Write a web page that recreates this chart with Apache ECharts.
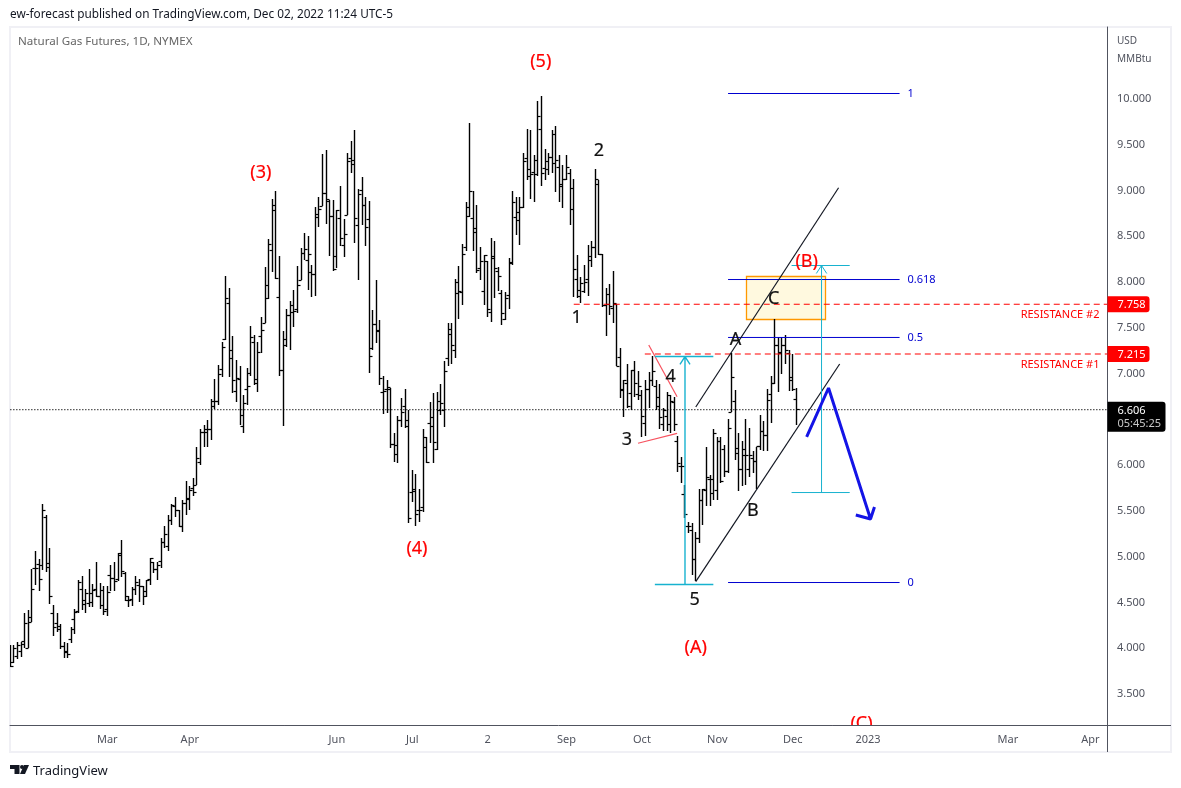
<!DOCTYPE html>
<html>
<head>
<meta charset="utf-8">
<title>Natural Gas Futures</title>
<script src="https://cdn.jsdelivr.net/npm/echarts@6/dist/echarts.min.js"></script>
<style>
html, body { margin: 0; padding: 0; background: #fff; }
#main { width: 1181px; height: 788px; }
</style>
</head>
<body>
<div id="main"></div>
<script>
// daily bars
var opens = [
  4.00,3.84,3.91,3.96,4.04,4.00,4.34,4.87,4.92,4.90, 5.43,4.93,4.38,4.27,4.24,4.02,3.95,4.10,4.31,4.40,
  4.64,4.52,4.49,4.60,4.64,4.57,4.63,4.42,4.80,4.76, 4.75,5.01,4.82,4.56,4.53,4.64,4.69,4.67,4.62,4.75,
  4.94,4.86,4.95,5.15,5.11,5.40,5.55,5.50,5.33,5.58, 5.63,5.74,5.78,6.03,6.36,6.39,6.39,6.69,6.69,7.04,
  7.37,7.77,7.25,6.81,6.94,6.42,6.83,7.00,7.34,6.94, 7.41,7.55,7.82,8.35,8.84,7.83,7.03,7.31,7.64,7.67,
  7.70,8.02,8.31,8.24,8.10,8.08,8.71,8.83,8.97,8.88, 8.72,8.28,8.69,8.40,8.73,9.35,9.33,8.62,9.00,8.84,
  8.68,7.27,7.54,7.46,6.79,6.83,6.83,6.23,6.12,6.49, 6.64,6.42,5.70,5.71,5.51,5.54,6.19,6.45,6.52,6.17,
  6.60,6.60,7.17,7.43,7.25,7.87,7.89,8.38,8.72,8.70, 8.58,8.15,7.90,8.23,7.67,8.28,8.12,7.87,7.59,7.85,
  8.20,8.71,8.67,8.81,9.35,9.15,9.20,9.17,9.67,9.24, 9.23,9.36,9.61,9.25,9.07,9.12,9.19,9.02,8.03,7.91,
  7.90,8.03,8.28,8.38,9.07,8.30,7.74,7.75,7.71,7.76, 7.18,6.82,6.89,6.78,7.03,6.77,6.76,6.46,6.83,6.93,
  6.86,6.64,6.44,6.53,6.44,6.68,6.26,5.99,5.68,5.33, 5.29,4.97,5.20,5.61,5.72,5.84,5.69,5.72,6.26,6.17,
  5.93,6.58,6.69,6.18,5.95,6.11,5.95,6.07,6.04,6.20, 6.37,6.32,6.77,6.89,7.31,7.23,7.31,7.22,6.93,6.72
];
var highs = [
  4.04,4.04,4.07,4.07,4.39,4.42,4.87,5.06,4.98,5.58, 5.46,5.09,4.47,4.38,4.26,4.07,4.06,4.23,4.43,4.75,
  4.79,4.65,4.87,4.70,4.94,4.71,4.68,4.68,4.91,4.94, 5.04,5.18,4.83,4.57,4.67,4.79,4.76,4.68,4.75,4.99,
  4.94,4.94,5.20,5.34,5.46,5.58,5.65,5.51,5.62,5.83, 5.77,5.86,6.20,6.40,6.44,6.49,6.72,6.94,7.09,7.35,
  8.07,7.93,7.41,7.15,7.08,6.77,7.06,7.52,7.42,7.34, 7.62,8.16,8.47,8.91,8.99,8.28,7.47,7.71,7.79,7.91,
  8.18,8.37,8.54,8.50,8.19,8.82,8.93,9.40,9.44,8.90, 8.90,8.79,9.05,8.69,9.41,9.54,9.66,9.02,9.15,8.93,
  8.89,7.70,8.02,7.59,6.97,6.93,6.84,6.35,6.54,6.73, 6.83,6.60,5.95,5.90,5.74,6.39,6.31,6.69,6.79,6.80,
  6.89,7.14,7.55,7.55,8.03,8.18,8.42,8.88,9.74,8.99, 8.84,8.38,8.30,8.23,8.48,8.45,8.17,7.91,7.89,8.26,
  9.00,8.93,8.93,9.41,9.67,9.66,9.39,9.98,10.03,9.45, 9.41,9.66,9.70,9.39,9.28,9.39,9.23,9.13,8.30,8.06,
  8.19,8.41,8.45,9.23,9.12,8.31,7.93,7.98,8.12,7.76, 7.28,6.93,7.11,7.04,7.14,7.03,6.82,6.93,7.02,7.19,
  6.93,6.89,6.62,6.80,6.77,6.74,6.32,6.09,5.78,5.38, 5.37,5.27,5.74,5.74,6.20,5.89,6.40,6.31,6.31,6.22,
  6.50,7.22,6.82,6.35,6.26,6.50,6.41,6.15,6.20,6.55, 6.48,6.83,6.97,7.60,7.40,7.40,7.42,7.26,7.21,6.84
];
var lows = [
  3.80,3.84,3.88,3.90,4.00,4.00,4.29,4.69,4.63,4.86, 4.83,4.48,4.13,4.18,3.99,3.89,3.89,4.06,4.16,4.38,
  4.42,4.38,4.45,4.45,4.56,4.43,4.36,4.35,4.62,4.63, 4.73,4.78,4.52,4.45,4.46,4.58,4.51,4.47,4.56,4.69,
  4.82,4.75,4.88,5.09,5.06,5.35,5.43,5.32,5.27,5.46, 5.51,5.66,5.78,6.00,6.20,6.20,6.28,6.61,6.66,6.96,
  7.37,6.96,6.79,6.69,6.44,6.35,6.66,6.97,6.88,6.80, 7.22,7.55,7.81,8.11,8.03,6.97,6.43,7.29,7.26,7.51,
  7.66,8.02,8.24,7.91,7.84,7.85,8.60,8.83,8.63,8.28, 8.12,8.15,8.39,8.27,8.73,9.19,8.43,8.02,8.62,8.39,
  7.01,7.26,7.33,6.88,6.56,6.57,6.19,6.03,6.02,6.42, 6.41,5.37,5.60,5.33,5.38,5.49,6.02,6.24,6.02,6.17,
  6.55,6.42,7.08,7.11,7.17,7.60,7.75,8.34,8.71,8.34, 8.10,8.02,7.75,7.62,7.56,7.83,7.90,7.53,7.59,7.71,
  8.19,8.51,8.40,8.81,9.11,8.91,8.87,9.16,9.05,9.12, 9.17,9.19,8.98,8.87,8.81,9.12,8.62,7.84,7.83,7.77,
  7.88,7.85,8.16,8.26,8.30,7.73,7.41,7.64,7.55,7.08, 6.73,6.53,6.62,6.60,6.75,6.71,6.31,6.32,6.62,6.86,
  6.60,6.40,6.37,6.37,6.35,6.37,5.93,5.80,5.42,5.26, 4.80,4.74,5.15,5.35,5.55,5.55,5.62,5.62,5.80,5.87,
  5.91,6.58,6.06,5.72,5.77,5.78,5.87,5.91,5.74,6.17, 6.15,6.15,6.46,6.89,6.80,7.00,7.11,6.81,6.81,6.44
];
var closes = [
  3.80,4.00,4.03,4.07,4.27,4.28,4.64,4.87,4.75,5.50, 4.88,4.56,4.23,4.20,4.02,3.96,3.93,4.20,4.39,4.72,
  4.48,4.60,4.50,4.63,4.57,4.47,4.40,4.61,4.76,4.73, 5.03,4.84,4.52,4.52,4.64,4.72,4.67,4.57,4.74,4.98,
  4.86,4.90,5.15,5.24,5.40,5.56,5.50,5.33,5.58,5.64, 5.72,5.70,6.07,6.36,6.36,6.39,6.64,6.69,6.99,7.29,
  7.82,7.17,6.93,6.95,6.54,6.67,6.86,7.39,6.89,7.23, 7.47,7.96,8.41,8.78,8.04,7.03,7.37,7.64,7.74,7.68,
  7.96,8.31,8.36,8.30,8.08,8.74,8.79,8.97,8.90,8.72, 8.14,8.78,8.48,8.52,9.32,9.28,8.70,8.96,8.84,8.60,
  7.19,7.54,7.47,6.95,6.80,6.85,6.23,6.22,6.49,6.57, 6.49,5.42,5.73,5.46,5.51,6.30,6.03,6.42,6.25,6.69,
  6.67,7.02,7.48,7.31,8.00,7.90,8.30,8.81,8.99,8.54, 8.13,8.23,8.29,7.70,8.26,8.15,8.06,7.66,7.82,8.21,
  8.87,8.76,8.81,9.32,9.23,9.18,9.33,9.81,9.19,9.32, 9.36,9.29,9.33,9.04,9.12,9.25,8.79,8.14,7.84,7.98,
  7.99,8.24,8.38,9.12,8.30,7.74,7.86,7.73,7.77,7.08, 6.83,6.92,6.64,7.03,6.89,6.86,6.53,6.83,6.92,7.02,
  6.74,6.52,6.60,6.76,6.69,6.44,6.02,5.99,5.46,5.33, 4.97,5.20,5.61,5.73,5.87,5.84,6.35,6.26,5.82,5.93,
  6.40,6.96,6.13,5.95,6.17,6.11,6.11,6.04,6.20,6.37, 6.32,6.71,6.89,7.31,7.22,7.31,7.25,6.96,6.83,6.606
];

// axis ticks (x is the bar number)
var timeTicks = [27, 50, 91, 112, 133, 155, 176, 197, 218, 239, 278, 301];
var timeLabels = ['Mar', 'Apr', 'Jun', 'Jul', '2', 'Sep', 'Oct', 'Nov', 'Dec', '2023', 'Mar', 'Apr'];
var priceTicks = [3.5, 4, 4.5, 5, 5.5, 6, 6.5, 7, 7.5, 8, 8.5, 9, 9.5, 10];

// drawings on the chart, [bar, price]
var lastPrice = 6.606;
var lastBar = 305.6;
var resistanceLevels = [7.758, 7.215];
var resistanceStarts = [157, 176.8];
var fibLevels = ['1', '0.618', '0.5', '0'];
var fibPrices = [10.06, 8.028, 7.395, 4.718];
var fibStart = 200, fibEnd = 247.8, fibText = 250;
var channelUpper = [[191, 6.635], [230.8, 9.03]];
var channelLower = [[191, 4.727], [231.1, 7.105]];
var pinkUpper = [[177.9, 7.313], [185.8, 6.748]];
var pinkLower = [[174.9, 6.239], [185.8, 6.348]];
var zoneBox = [[205.15, 8.061, 227.15, 7.586]];
var measureLeft = [[179.6, 4.696], [195.9, 4.696], [188, 4.696], [188, 7.187], [179.6, 7.187], [195.9, 7.187], [188, 7.187], [186.6, 7.10], [188, 7.187], [189.4, 7.10]];
var measureRight = [[217.7, 5.701], [233.9, 5.701], [226.05, 5.701], [226.05, 8.181], [217.7, 8.181], [233.9, 8.181], [226.05, 8.181], [224.6, 8.094], [226.05, 8.181], [227.5, 8.094]];
var forecastPath = [[221.9, 6.308], [228, 6.843], [239.7, 5.412], [235.6, 5.456], [239.7, 5.412], [240.8, 5.543]];

// wave counts: bar, price, text
var redWaves = [[147.8, 10.415, '(5)'], [69.8, 9.203, '(3)'], [113.3, 5.095, '(4)'], [191, 4.01, '(A)'], [221.9, 8.23, '(B)'], [237.2, 3.19, '(C)']];
var blackWaves = [[164, 9.443, '2'], [157.8, 7.619, '1'], [171.8, 6.286, '3'], [184, 6.974, '4'], [190.7, 4.538, '5'], [202.1, 7.378, 'A'], [206.9, 5.51, 'B'], [212.7, 7.826, 'C']];
var resistanceNotes = [[303.5, 7.651, 'RESISTANCE #2'], [303.5, 7.105, 'RESISTANCE #1']];

var uiFont = '"Noto Sans", sans-serif';

var barData = opens.map(function (o, i) {
    return [i, o, highs[i], lows[i], closes[i]];
});

function crisp(v) {
    return Math.round(v - 0.5) + 0.5;
}

// ohlc bar: stem with a tick left (open) and right (close)
function renderBar(params, api) {
    var x = api.value(0);
    var pO = api.coord([x, api.value(1)]);
    var pH = api.coord([x, api.value(2)]);
    var pL = api.coord([x, api.value(3)]);
    var pC = api.coord([x, api.value(4)]);
    var cx = crisp(pO[0]);
    return {
        type: 'group',
        children: [
            { type: 'line', shape: { x1: cx, y1: Math.round(pH[1]), x2: cx, y2: Math.round(pL[1]) }, style: { stroke: '#000', lineWidth: 1.4 } },
            { type: 'line', shape: { x1: cx - 3, y1: crisp(pO[1]), x2: cx, y2: crisp(pO[1]) }, style: { stroke: '#000', lineWidth: 1.2 } },
            { type: 'line', shape: { x1: cx, y1: crisp(pC[1]), x2: cx + 3, y2: crisp(pC[1]) }, style: { stroke: '#000', lineWidth: 1.2 } }
        ]
    };
}

function textRenderer(font, color, align, heavy, dy) {
    return function (params, api) {
        var p = api.coord([api.value(0), api.value(1)]);
        return {
            type: 'text',
            style: {
                text: labelsOf[params.seriesName][params.dataIndex],
                x: p[0], y: p[1] + dy,
                font: font, fill: color,
                stroke: heavy ? color : null, lineWidth: heavy ? 0.2 : 0,
                align: align, verticalAlign: 'middle'
            }
        };
    };
}

var labelsOf = {
    red: redWaves.map(function (d) { return d[2]; }),
    black: blackWaves.map(function (d) { return d[2]; }),
    notes: resistanceNotes.map(function (d) { return d[2]; }),
    fib: fibLevels
};

function lineSeries(data, color, width, type, z) {
    return {
        type: 'line', data: data, showSymbol: false, silent: true, animation: false,
        connectNulls: false, z: z || 4,
        lineStyle: { color: color, width: width, type: type || 'solid' }
    };
}

// pairs of points -> separate segments
function segments(pts) {
    var out = [];
    for (var i = 0; i < pts.length; i += 2) {
        out.push(pts[i], pts[i + 1], [null, null]);
    }
    return out;
}

var series = [];

// last price dotted line
series.push(lineSeries([[0, lastPrice], [lastBar, lastPrice]], '#000', 1.3, [1, 2], 1));

// yellow zone
series.push({
    type: 'custom', data: zoneBox, z: 2, silent: true, animation: false,
    renderItem: function (params, api) {
        var a = api.coord([api.value(0), api.value(1)]);
        var b = api.coord([api.value(2), api.value(3)]);
        return {
            type: 'rect',
            shape: { x: crisp(a[0]), y: crisp(a[1]), width: Math.round(b[0] - a[0]), height: Math.round(b[1] - a[1]) },
            style: { fill: '#fff9df', stroke: '#ff9800', lineWidth: 1.3 }
        };
    }
});

// the bars
series.push({
    type: 'custom', name: 'Natural Gas', data: barData, z: 3, clip: true, silent: true, animation: false,
    encode: { x: 0, y: [1, 2, 3, 4] },
    renderItem: renderBar
});

// fib levels
fibPrices.forEach(function (p) {
    series.push(lineSeries([[fibStart, p], [fibEnd, p]], '#0000d0', 1));
});

// resistance levels
resistanceLevels.forEach(function (p, i) {
    series.push(lineSeries([[resistanceStarts[i], p], [lastBar, p]], '#ff0000', 1.1, [6, 4]));
});

series.push(lineSeries(channelUpper, '#131722', 1.2));
series.push(lineSeries(channelLower, '#131722', 1.2));
series.push(lineSeries(pinkUpper, '#f7525f', 1.2));
series.push(lineSeries(pinkLower, '#f7525f', 1.2));
series.push(lineSeries(segments(measureLeft), '#17b2cf', 1.4));
series.push(lineSeries(segments(measureRight), '#17b2cf', 1));
series.push(lineSeries(forecastPath, '#1414e6', 3));

series.push({
    type: 'custom', name: 'red', data: redWaves.map(function (d) { return [d[0], d[1]]; }),
    z: 6, clip: true, silent: true, animation: false,
    renderItem: textRenderer('18px ' + uiFont, '#ff0000', 'center', true, 1)
});
series.push({
    type: 'custom', name: 'black', data: blackWaves.map(function (d) { return [d[0], d[1]]; }),
    z: 6, clip: true, silent: true, animation: false,
    renderItem: textRenderer('18px ' + uiFont, '#111', 'center', true, 1)
});
series.push({
    type: 'custom', name: 'notes', data: resistanceNotes.map(function (d) { return [d[0], d[1]]; }),
    z: 6, clip: true, silent: true, animation: false,
    renderItem: textRenderer('11px ' + uiFont, '#ff0000', 'right', false, 1)
});
series.push({
    type: 'custom', name: 'fib', data: fibPrices.map(function (p) { return [fibText, p]; }),
    z: 6, clip: true, silent: true, animation: false,
    renderItem: textRenderer('11px ' + uiFont, '#0000d0', 'left', false, 0)
});

// price tags on the scale
series.push({
    type: 'custom', data: resistanceLevels.map(function (p) { return [lastBar, p]; }),
    z: 8, clip: false, silent: true, animation: false,
    renderItem: function (params, api) {
        var p = api.coord([api.value(0), api.value(1)]);
        return {
            type: 'group',
            children: [
                { type: 'rect', shape: { x: p[0] + 0.5, y: p[1] - 8, width: 42, height: 16, r: [0, 3, 3, 0] }, style: { fill: '#ff0000' } },
                { type: 'text', style: { text: api.value(1).toFixed(3), x: p[0] + 10.5, y: p[1] + 1, font: '11px ' + uiFont, fill: '#fff', verticalAlign: 'middle' } }
            ]
        };
    }
});
series.push({
    type: 'custom', data: [[lastBar, lastPrice]],
    z: 8, clip: false, silent: true, animation: false,
    renderItem: function (params, api) {
        var p = api.coord([api.value(0), api.value(1)]);
        return {
            type: 'group',
            children: [
                { type: 'rect', shape: { x: p[0] + 0.5, y: p[1] - 8, width: 58, height: 30, r: [0, 3, 3, 0] }, style: { fill: '#000' } },
                { type: 'text', style: { text: api.value(1).toFixed(3), x: p[0] + 10.5, y: p[1] + 1, font: '11px ' + uiFont, fill: '#fff', verticalAlign: 'middle' } },
                { type: 'text', style: { text: '05:45:25', x: p[0] + 10.5, y: p[1] + 14, font: '11px ' + uiFont, fill: '#c8c8c8', verticalAlign: 'middle' } }
            ]
        };
    }
});

var chart = echarts.init(document.getElementById('main'), null, { renderer: 'canvas' });

chart.setOption({
    animation: false,
    backgroundColor: '#fff',
    grid: { left: 10, right: 74, top: 27, bottom: 63, containLabel: false },
    xAxis: {
        type: 'value', min: -0.1, max: lastBar,
        splitLine: { show: false },
        axisTick: { show: false },
        axisLine: { show: true, onZero: false, lineStyle: { color: '#50535e', width: 1 } },
        axisLabel: {
            customValues: timeTicks, margin: 9, color: '#50535e', fontSize: 11, fontFamily: uiFont,
            hideOverlap: false,
            formatter: function (v) { return timeLabels[timeTicks.indexOf(v)]; }
        }
    },
    yAxis: {
        type: 'value', position: 'right', min: 3.1615, max: 10.7865,
        splitLine: { show: false },
        axisTick: { show: false },
        axisLine: { show: true, onZero: false, lineStyle: { color: '#50535e', width: 1 } },
        axisLabel: {
            customValues: priceTicks, margin: 10, color: '#50535e', fontSize: 11, fontFamily: uiFont,
            hideOverlap: false, padding: [4, 0, 0, 0],
            formatter: function (v) { return v.toFixed(3); }
        }
    },
    series: series,
    graphic: [
        // panel frame
        { type: 'rect', z: 0, shape: { x: 10, y: 27, width: 1161, height: 725 }, style: { fill: 'none', stroke: '#f0f0f5', lineWidth: 2 } },
        // axis lines carried on past the plot
        { type: 'line', z: 7, shape: { x1: 1107, y1: 725.5, x2: 1171, y2: 725.5 }, style: { stroke: '#50535e', lineWidth: 1 } },
        { type: 'line', z: 7, shape: { x1: 1107.5, y1: 725, x2: 1107.5, y2: 752 }, style: { stroke: '#50535e', lineWidth: 1 } },
        { type: 'text', z: 7, style: { text: 'ew-forecast published on TradingView.com, Dec 02, 2022 11:24 UTC-5', x: 10, y: 15, font: '11.8px ' + uiFont, fill: '#131722', verticalAlign: 'middle' } },
        { type: 'text', z: 7, style: { text: 'Natural Gas Futures, 1D, NYMEX', x: 18, y: 42, font: '11.6px ' + uiFont, fill: '#666', verticalAlign: 'middle' } },
        { type: 'text', z: 7, style: { text: 'USD', x: 1117, y: 41, font: '10px ' + uiFont, fill: '#50535e', verticalAlign: 'middle' } },
        { type: 'text', z: 7, style: { text: 'MMBtu', x: 1117, y: 59, font: '10px ' + uiFont, fill: '#50535e', verticalAlign: 'middle' } },
        // footer logo
        { type: 'polygon', z: 7, shape: { points: [[10, 765], [19.5, 765], [19.5, 774], [14.5, 774], [14.5, 769], [10, 769]] }, style: { fill: '#131722' } },
        { type: 'circle', z: 7, shape: { cx: 22, cy: 767, r: 2 }, style: { fill: '#131722' } },
        { type: 'polygon', z: 7, shape: { points: [[24, 765], [29, 765], [25, 774], [20, 774]] }, style: { fill: '#131722' } },
        { type: 'text', z: 7, style: { text: 'TradingView', x: 33, y: 771.5, font: '13px ' + uiFont, fill: '#131722', verticalAlign: 'middle' } }
    ]
});
</script>
</body>
</html>
